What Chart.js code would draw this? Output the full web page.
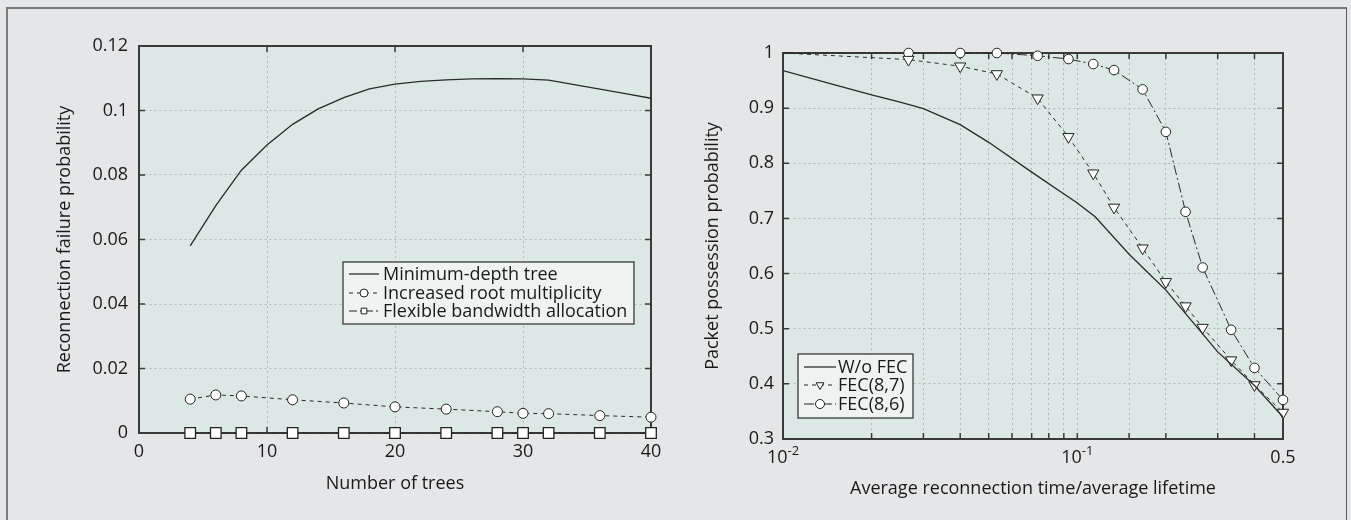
<!DOCTYPE html>
<html>
<head>
<meta charset="utf-8">
<script src="https://cdn.jsdelivr.net/npm/chart.js@4.4.1/dist/chart.umd.min.js"></script>
<style>
html, body { margin: 0; padding: 0; background: #e5e6e8; }
body { width: 1351px; height: 520px; position: relative; overflow: hidden; }
#frame { position: absolute; left: 6px; top: 7px; width: 1338px; height: 530px;
  border-top: 2px solid #7b7b7b; border-left: 2px solid #7b7b7b; border-right: 1px solid #555; }
#c1 { position: absolute; left: 0; top: 0; }
#c2 { position: absolute; left: 680px; top: 0; }
</style>
</head>
<body>
<div id="frame"></div>
<canvas id="c1" width="680" height="520"></canvas>
<canvas id="c2" width="671" height="520"></canvas>
<script>
// left chart: reconnection failure vs number of trees
var treeCounts = [4, 6, 8, 10, 12, 14, 16, 18, 20, 22, 24, 26, 28, 30, 32, 34, 36, 38, 40];
var minDepthTree = [0.058, 0.0705, 0.0815, 0.0893, 0.0957, 0.1005, 0.1040, 0.1067, 0.1082, 0.1090,
  0.1095, 0.1098, 0.1099, 0.1098, 0.1094, 0.1080, 0.1066, 0.1052, 0.1038];
var markerTrees = [4, 6, 8, 12, 16, 20, 24, 28, 30, 32, 36, 40];
var rootMultiplicity = [0.0105, 0.0118, 0.0115, 0.0103, 0.0093, 0.0081, 0.0074, 0.0066, 0.0061, 0.0060, 0.0054, 0.0049];
var flexibleBandwidth = [0, 0, 0, 0, 0, 0, 0, 0, 0, 0, 0, 0];
var leftXTicks = ['0', '10', '20', '30', '40'];
var leftYTicks = ['0', '0.02', '0.04', '0.06', '0.08', '0.1', '0.12'];

// right chart: packet possession vs reconnection time / lifetime
var lifetimeRatio = [0.01, 0.015, 0.02, 0.025, 0.03, 0.04, 0.05, 0.07, 0.1, 0.115, 0.15, 0.175, 0.2, 0.3, 0.4, 0.5];
var withoutFec = [0.968, 0.942, 0.924, 0.911, 0.899, 0.870, 0.838, 0.784, 0.728, 0.703, 0.635, 0.600, 0.570, 0.458, 0.397, 0.340];
var fecRatio = [0.01, 0.0267, 0.04, 0.0533, 0.0733, 0.0933, 0.1133, 0.1333, 0.1667, 0.2, 0.2333, 0.2667, 0.3333, 0.4, 0.5];
var fec87 = [1.0, 0.988, 0.976, 0.962, 0.918, 0.848, 0.782, 0.720, 0.646, 0.585, 0.541, 0.502, 0.443, 0.398, 0.348];
var fec86 = [1.0, 1.0, 1.0, 1.0, 0.995, 0.989, 0.980, 0.969, 0.934, 0.857, 0.712, 0.611, 0.498, 0.429, 0.371];
var rightYTicks = ['0.3', '0.4', '0.5', '0.6', '0.7', '0.8', '0.9', '1'];
var rightXTickValues = [0.01, 0.1, 0.5];
var rightXTickBase = ['10', '10', '0.5'];
var rightXTickExp = ['-2', '-1', ''];

Chart.defaults.font.family = "'Open Sans', sans-serif";
Chart.defaults.font.size = 18;
Chart.defaults.color = '#1a1a1a';

function pts(xs, ys) {
  return xs.map(function(x, i) { return { x: x, y: ys[i] }; });
}

function drawMarker(ctx, style, x, y, r, rot) {
  ctx.beginPath();
  if (style === 'circle') {
    ctx.arc(x, y, r, 0, Math.PI * 2);
  } else if (style === 'rect') {
    var s = r * Math.SQRT1_2;
    ctx.rect(x - s, y - s, 2 * s, 2 * s);
  } else if (style === 'triangle') {
    var a = (rot || 0) * Math.PI / 180;
    for (var k = 0; k < 3; k++) {
      var px = x + Math.sin(a) * r, py = y - Math.cos(a) * r;
      if (k === 0) ctx.moveTo(px, py); else ctx.lineTo(px, py);
      a += Math.PI * 2 / 3;
    }
    ctx.closePath();
  }
  ctx.fillStyle = '#fff';
  ctx.fill();
  ctx.lineWidth = 1;
  ctx.strokeStyle = '#222';
  ctx.setLineDash([]);
  ctx.stroke();
}

// plot area fill
var plotBg = {
  id: 'plotBg',
  beforeDraw: function(chart) {
    var a = chart.chartArea, ctx = chart.ctx;
    ctx.save();
    ctx.fillStyle = '#dce8e5';
    ctx.fillRect(a.left, a.top, a.right - a.left, a.bottom - a.top);
    ctx.restore();
  }
};

// box round the plot and inward tick marks on all four sides
var frameTicks = {
  id: 'frameTicks',
  beforeDatasetsDraw: function(chart) {
    var a = chart.chartArea, ctx = chart.ctx, len = 6;
    ctx.save();
    ctx.strokeStyle = '#3a3a3a';
    ctx.lineWidth = 1.5;
    ctx.setLineDash([]);
    ctx.beginPath();
    chart.scales.x.ticks.forEach(function(t) {
      var px = chart.scales.x.getPixelForValue(t.value);
      if (px - a.left < 1 || a.right - px < 1) return;
      ctx.moveTo(px, a.bottom); ctx.lineTo(px, a.bottom - len);
      ctx.moveTo(px, a.top); ctx.lineTo(px, a.top + len);
    });
    chart.scales.y.ticks.forEach(function(t) {
      var py = chart.scales.y.getPixelForValue(t.value);
      if (py - a.top < 1 || a.bottom - py < 1) return;
      ctx.moveTo(a.left, py); ctx.lineTo(a.left + len, py);
      ctx.moveTo(a.right, py); ctx.lineTo(a.right - len, py);
    });
    ctx.stroke();
    ctx.lineWidth = 2;
    ctx.strokeRect(a.left, a.top, a.right - a.left, a.bottom - a.top);
    ctx.restore();
  }
};

// legend box inside the plot
var boxLegend = {
  id: 'boxLegend',
  afterDraw: function(chart, args, o) {
    if (!o || !o.rows) return;
    var ctx = chart.ctx;
    ctx.save();
    ctx.fillStyle = '#eef3f2';
    ctx.fillRect(o.x, o.y, o.w, o.h);
    ctx.strokeStyle = '#2a2a2a';
    ctx.lineWidth = 1.2;
    ctx.strokeRect(o.x, o.y, o.w, o.h);
    ctx.font = "18px 'Open Sans', sans-serif";
    ctx.textBaseline = 'middle';
    chart.data.datasets.forEach(function(ds, i) {
      var y = o.rows[i];
      ctx.strokeStyle = '#222';
      ctx.lineWidth = 1.2;
      ctx.setLineDash(ds.borderDash || []);
      ctx.beginPath();
      ctx.moveTo(o.lineX0, y); ctx.lineTo(o.lineX1, y);
      ctx.stroke();
      if (ds.legendMarker) {
        drawMarker(ctx, ds.pointStyle, (o.lineX0 + o.lineX1) / 2, y, o.markerR, ds.pointRotation);
      }
      ctx.fillStyle = '#1a1a1a';
      ctx.fillText(ds.label, o.textX, y + 1);
    });
    ctx.restore();
  }
};

// 10^-2 style labels for the log axis
var logLabels = {
  id: 'logLabels',
  afterDraw: function(chart, args, o) {
    if (!o || !o.values) return;
    var ctx = chart.ctx, xs = chart.scales.x, y = chart.chartArea.bottom + o.offset;
    ctx.save();
    ctx.fillStyle = '#1a1a1a';
    ctx.textBaseline = 'middle';
    o.values.forEach(function(v, i) {
      var big = "18px 'Open Sans', sans-serif", small = "13px 'Open Sans', sans-serif";
      ctx.font = big;
      var w1 = ctx.measureText(o.base[i]).width;
      ctx.font = small;
      var w2 = o.exp[i] ? ctx.measureText(o.exp[i]).width : 0;
      var x0 = xs.getPixelForValue(v) - (w1 + w2) / 2;
      ctx.textAlign = 'left';
      ctx.font = big;
      ctx.fillText(o.base[i], x0, y);
      if (o.exp[i]) {
        ctx.font = small;
        ctx.fillText(o.exp[i], x0 + w1, y - 7);
      }
    });
    ctx.restore();
  }
};

var gridStyle = { color: '#b3b8b7', lineWidth: 1, drawTicks: false };
var borderStyle = { display: true, color: '#3a3a3a', width: 1.5, dash: [2, 3] };

new Chart(document.getElementById('c1'), {
  type: 'scatter',
  data: {
    datasets: [{
      label: 'Minimum-depth tree',
      data: pts(treeCounts, minDepthTree),
      showLine: true,
      borderColor: '#2a2a2a',
      borderWidth: 1.3,
      pointRadius: 0,
      legendMarker: false
    }, {
      label: 'Increased root multiplicity',
      data: pts(markerTrees, rootMultiplicity),
      showLine: true,
      borderColor: '#2a2a2a',
      borderWidth: 1,
      borderDash: [4, 4],
      pointStyle: 'circle',
      pointRadius: 5,
      pointBackgroundColor: '#fff',
      pointBorderColor: '#222',
      pointBorderWidth: 1,
      legendMarker: true,
      clip: false
    }, {
      label: 'Flexible bandwidth allocation',
      data: pts(markerTrees, flexibleBandwidth),
      showLine: true,
      borderColor: '#2a2a2a',
      borderWidth: 1,
      borderDash: [8, 3, 2, 3],
      pointStyle: 'rect',
      pointRadius: 7.5,
      pointBackgroundColor: '#fff',
      pointBorderColor: '#222',
      pointBorderWidth: 1.3,
      legendMarker: true,
      clip: false
    }]
  },
  options: {
    responsive: false,
    animation: false,
    events: [],
    layout: { padding: { left: 51, top: 46, right: 29, bottom: 21 } },
    scales: {
      x: {
        type: 'linear', min: 0, max: 40,
        afterFit: function(s) { s.height = 66; },
        grid: gridStyle, border: borderStyle,
        ticks: { stepSize: 10, padding: 8, maxRotation: 0,
          callback: function(v, i) { return leftXTicks[i]; } },
        title: { display: true, text: 'Number of trees', padding: { top: 0, bottom: 4 } }
      },
      y: {
        min: 0, max: 0.12,
        afterFit: function(s) { s.width = 88; },
        grid: gridStyle, border: borderStyle,
        ticks: { stepSize: 0.02, padding: 11,
          callback: function(v, i) { return leftYTicks[i]; } },
        title: { display: true, text: 'Reconnection failure probability', padding: { top: 3, bottom: 0 } }
      }
    },
    plugins: {
      legend: { display: false },
      tooltip: { enabled: false },
      boxLegend: { x: 343, y: 262, w: 291, h: 62, rows: [274, 293, 311],
        lineX0: 349, lineX1: 379, textX: 383, markerR: 4 }
    }
  },
  plugins: [plotBg, frameTicks, boxLegend]
});

new Chart(document.getElementById('c2'), {
  type: 'scatter',
  data: {
    datasets: [{
      label: 'W/o FEC',
      data: pts(lifetimeRatio, withoutFec),
      showLine: true,
      borderColor: '#2a2a2a',
      borderWidth: 1.3,
      pointRadius: 0,
      legendMarker: false
    }, {
      label: 'FEC(8,7)',
      data: pts(fecRatio, fec87),
      showLine: true,
      borderColor: '#2a2a2a',
      borderWidth: 1,
      borderDash: [4, 4],
      pointStyle: 'triangle',
      pointRotation: 180,
      pointRadius: fecRatio.map(function(v, i) { return i === 0 ? 0 : 6.5; }),
      pointBackgroundColor: '#fff',
      pointBorderColor: '#222',
      pointBorderWidth: 1,
      legendMarker: true,
      clip: false
    }, {
      label: 'FEC(8,6)',
      data: pts(fecRatio, fec86),
      showLine: true,
      borderColor: '#2a2a2a',
      borderWidth: 1,
      borderDash: [10, 3, 2, 3],
      pointStyle: 'circle',
      pointRadius: fecRatio.map(function(v, i) { return i === 0 ? 0 : 4.8; }),
      pointBackgroundColor: '#fff',
      pointBorderColor: '#222',
      pointBorderWidth: 1,
      legendMarker: true,
      clip: false
    }]
  },
  options: {
    responsive: false,
    animation: false,
    events: [],
    layout: { padding: { left: 19, top: 53, right: 68, bottom: 16 } },
    scales: {
      x: {
        type: 'logarithmic', min: 0.01, max: 0.5,
        afterFit: function(s) { s.height = 65; },
        grid: gridStyle, border: borderStyle,
        ticks: { display: false, autoSkip: false },
        title: { display: true, text: 'Average reconnection time/average lifetime', padding: { top: 0, bottom: 4 } }
      },
      y: {
        min: 0.3, max: 1,
        afterFit: function(s) { s.width = 84; },
        grid: gridStyle, border: borderStyle,
        ticks: { stepSize: 0.1, padding: 9,
          callback: function(v, i) { return rightYTicks[i]; } },
        title: { display: true, text: 'Packet possession probability', padding: { top: 3, bottom: 0 } }
      }
    },
    plugins: {
      legend: { display: false },
      tooltip: { enabled: false },
      boxLegend: { x: 118, y: 354, w: 115, h: 64, rows: [367, 385, 404],
        lineX0: 124, lineX1: 156, textX: 158, markerR: 4.5 },
      logLabels: { values: rightXTickValues, base: rightXTickBase, exp: rightXTickExp, offset: 19 }
    }
  },
  plugins: [plotBg, frameTicks, boxLegend, logLabels]
});
</script>
</body>
</html>
